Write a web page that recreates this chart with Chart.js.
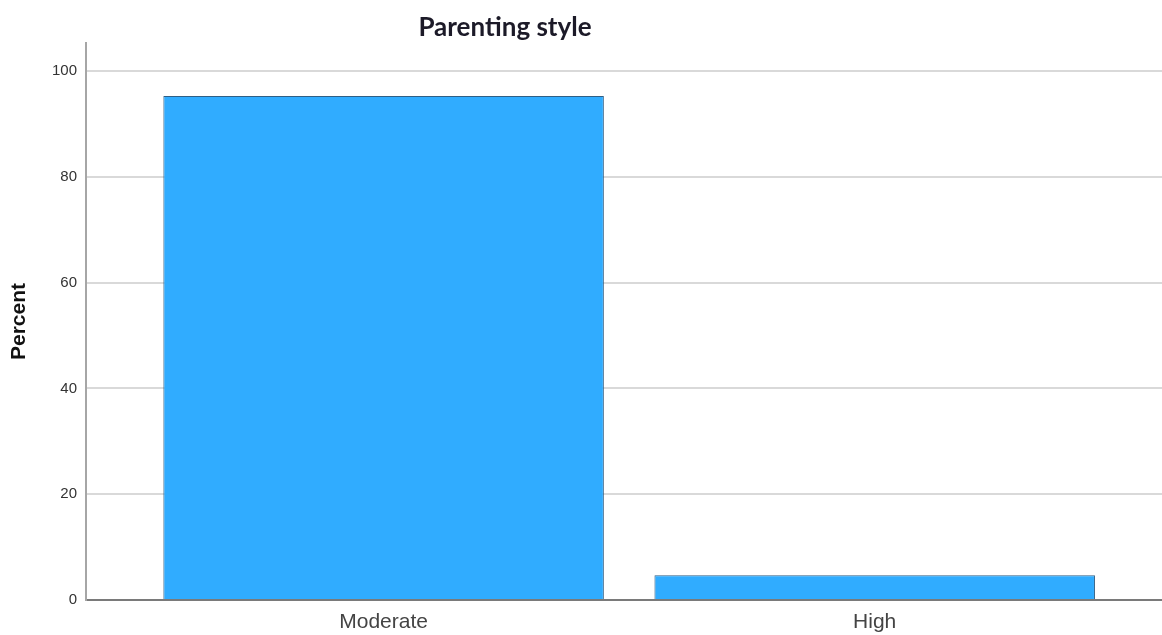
<!DOCTYPE html>
<html lang="en">
<head>
    <meta charset="UTF-8">
    <title>Parenting style</title>
    <script src="https://cdn.jsdelivr.net/npm/chart.js@4.4.0/dist/chart.umd.min.js"></script>
    <style>
        html, body { margin: 0; padding: 0; background: #fff; }
        .wrap { width: 1162px; height: 635px; }
    </style>
</head>
<body>
    <div class="wrap">
        <canvas id="myChart" width="1162" height="635"></canvas>
    </div>

    <script type="text/javascript">
        var categories = ['Moderate', 'High'];
        var percents = [95.3, 4.7];
        var yTicks = [0, 20, 40, 60, 80, 100];

        // chart title sits left of the plot centre in the original
        var titlePlugin = {
            id: 'topTitle',
            afterDraw: function(chart) {
                var ctx = chart.ctx;
                ctx.save();
                ctx.font = 'bold 26px Lato, "Liberation Sans", sans-serif';
                ctx.fillStyle = '#1c1a28';
                ctx.textAlign = 'center';
                ctx.textBaseline = 'middle';
                ctx.fillText('Parenting style', 505, 28);
                ctx.restore();
            }
        };

        var ctx = document.getElementById('myChart').getContext('2d');
        var myChart = new Chart(ctx, {
            type: 'bar',
            data: {
                datasets: [{
                    label: 'Percent',
                    data: percents.map(function(v, i) { return {x: i, y: v}; }),
                    backgroundColor: '#30acff',
                    borderColor: '#2f5f85',
                    borderWidth: 1,
                    categoryPercentage: 1,
                    barPercentage: 0.897
                }]
            },
            plugins: [titlePlugin],
            options: {
                responsive: false,
                animation: false,
                layout: { padding: { top: 43, left: 0, right: 0, bottom: 0 } },
                plugins: {
                    legend: { display: false },
                    tooltip: { enabled: false }
                },
                scales: {
                    x: {
                        type: 'linear',
                        offset: false,
                        min: -0.606,
                        max: 1.585,
                        afterFit: function(s) { s.height = 35; },
                        afterBuildTicks: function(s) {
                            s.ticks = categories.map(function(c, i) { return {value: i}; });
                        },
                        grid: { display: false, drawTicks: false, offset: false },
                        border: { display: true, color: '#7a7a7a', width: 2 },
                        ticks: {
                            padding: 10,
                            color: '#444',
                            font: { family: '"Liberation Sans", Arial, sans-serif', size: 21 },
                            callback: function(v) { return categories[v]; }
                        }
                    },
                    y: {
                        min: 0,
                        max: 105.3,
                        afterFit: function(s) { s.width = 86; },
                        afterBuildTicks: function(s) {
                            s.ticks = yTicks.map(function(v) { return {value: v}; });
                        },
                        grid: { color: '#d9d9d9', lineWidth: 2, drawTicks: false },
                        border: { display: true, color: '#a6a6a6', width: 2 },
                        ticks: {
                            padding: 9,
                            color: '#333',
                            font: { family: '"Liberation Sans", Arial, sans-serif', size: 15 }
                        },
                        title: {
                            display: true,
                            text: 'Percent',
                            color: '#111',
                            padding: { top: 7, bottom: 0 },
                            font: { family: '"Liberation Sans", Arial, sans-serif', size: 21, weight: 'bold' }
                        }
                    }
                }
            }
        });
    </script>
</body>
</html>
